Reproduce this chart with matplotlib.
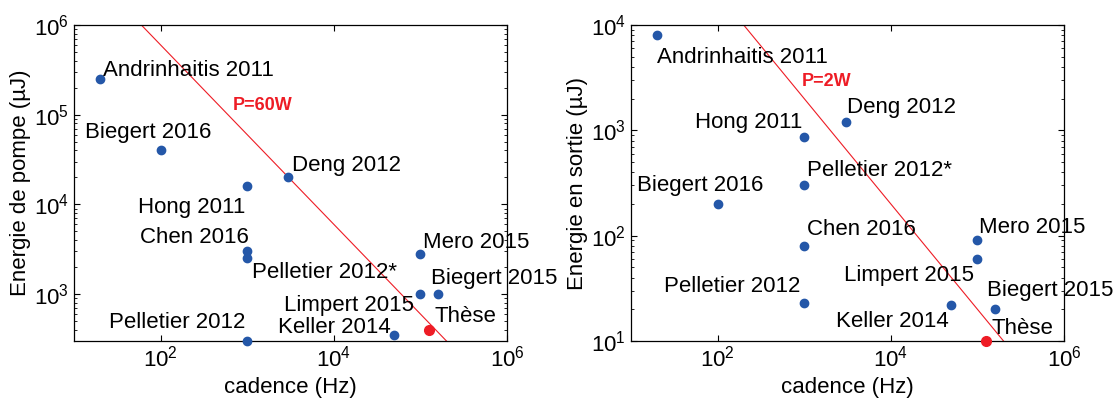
import numpy as np
import matplotlib
matplotlib.use('Agg')
import matplotlib.pyplot as plt
from matplotlib.ticker import LogLocator, NullLocator

plt.rcParams['font.family'] = ['Liberation Sans', 'DejaVu Sans']
plt.rcParams['mathtext.fontset'] = 'custom'
plt.rcParams['mathtext.rm'] = 'Liberation Sans'
plt.rcParams['mathtext.it'] = 'Liberation Sans:italic'
plt.rcParams['mathtext.bf'] = 'Liberation Sans:bold'

blue = '#2457A8'
red = '#EE1C25'

# pump energy panel
pump_names = ['Andrinhaitis 2011', 'Biegert 2016', 'Hong 2011', 'Deng 2012', 'Chen 2016',
              'Pelletier 2012*', 'Pelletier 2012', 'Mero 2015', 'Limpert 2015',
              'Biegert 2015', 'Keller 2014']
pump_freq = [20, 100, 1000, 3000, 1000, 1000, 1000, 1e5, 1e5, 1.6e5, 5e4]
pump_energy = [2.5e5, 4e4, 1.6e4, 2e4, 3000, 2500, 300, 2800, 1000, 1000, 350]
pump_these = (1.25e5, 400)
pump_power = 60  # W

# output energy panel
out_names = ['Andrinhaitis 2011', 'Hong 2011', 'Deng 2012', 'Pelletier 2012*',
             'Biegert 2016', 'Chen 2016', 'Pelletier 2012', 'Mero 2015',
             'Limpert 2015', 'Keller 2014', 'Biegert 2015']
out_freq = [20, 1000, 3000, 1000, 100, 1000, 1000, 1e5, 1e5, 5e4, 1.6e5]
out_energy = [8000, 870, 1200, 300, 200, 80, 23, 90, 60, 22, 20]
out_these = (1.25e5, 10)
out_power = 2  # W

# label offsets in pixels (dx, dy, ha)
pump_offsets = [(3, 9, 'left'), (-12, 18, 'center'), (-2, -21, 'right'), (4, 12, 'left'),
                (2, 14, 'right'), (5, -14, 'left'), (-2, 19, 'right'), (3, 11, 'left'),
                (-6, -11, 'right'), (-7, 16, 'left'), (-4, 7, 'right')]
out_offsets = [(0, -22, 'left'), (-2, 14, 'right'), (1, 14, 'left'), (3, 15, 'left'),
               (-17, 18, 'center'), (3, 16, 'left'), (-4, 16, 'right'), (2, 13, 'left'),
               (-3, -16, 'right'), (-3, -17, 'right'), (-8, 19, 'left')]

fs = 16

fig = plt.figure(figsize=(11.17, 4.0), dpi=100)
ax1 = fig.add_axes([0.0662, 0.1475, 0.3877, 0.79])
ax2 = fig.add_axes([0.5649, 0.1475, 0.3877, 0.79])


def panel(ax, names, freq, energy, these, offs, power, ylim, ylabel, plabel, ppos):
    ax.set_xscale('log')
    ax.set_yscale('log')
    ax.set_xlim(10, 1e6)
    ax.set_ylim(*ylim)
    f = np.logspace(1, 6, 200)
    ax.plot(f, power / f * 1e6, color=red, lw=0.8)
    ax.plot(freq, energy, 'o', color=blue, ms=6, clip_on=False, zorder=3)
    ax.plot([these[0]], [these[1]], 'o', color=red, ms=7, clip_on=False, zorder=3)
    for n, x, y, (dx, dy, ha) in zip(names, freq, energy, offs):
        ax.annotate(n, (x, y), xytext=(dx, dy), textcoords='offset pixels',
                    ha=ha, va='center', fontsize=fs)
    ax.annotate('Thèse', these, xytext=(6, 13), textcoords='offset pixels',
                ha='left', va='center', fontsize=fs)
    ax.text(ppos[0], ppos[1], plabel, color=red, fontsize=13, fontweight='bold',
            ha='left', va='center')
    ax.xaxis.set_major_locator(LogLocator(base=100))
    ax.xaxis.set_minor_locator(NullLocator())
    ax.yaxis.set_major_locator(LogLocator(base=10))
    ax.yaxis.set_minor_locator(LogLocator(base=10, subs=np.arange(2, 10)))
    ax.tick_params(which='both', direction='in', top=True, right=True, labelsize=fs)
    ax.tick_params(which='major', length=4, width=0.8)
    ax.tick_params(which='minor', length=2.5, width=0.6)
    ax.set_xlabel('cadence (Hz)', fontsize=fs, labelpad=4)
    ax.set_ylabel(ylabel, fontsize=fs, labelpad=2)
    for s in ax.spines.values():
        s.set_linewidth(0.9)


panel(ax1, pump_names, pump_freq, pump_energy, pump_these, pump_offsets, pump_power,
      (300, 1e6), 'Energie de pompe (µJ)', 'P=60W', (690, 1.26e5))
panel(ax2, out_names, out_freq, out_energy, out_these, out_offsets, out_power,
      (10, 1e4), 'Energie en sortie (µJ)', 'P=2W', (930, 2900))

fig.savefig('out.png', dpi=100)
